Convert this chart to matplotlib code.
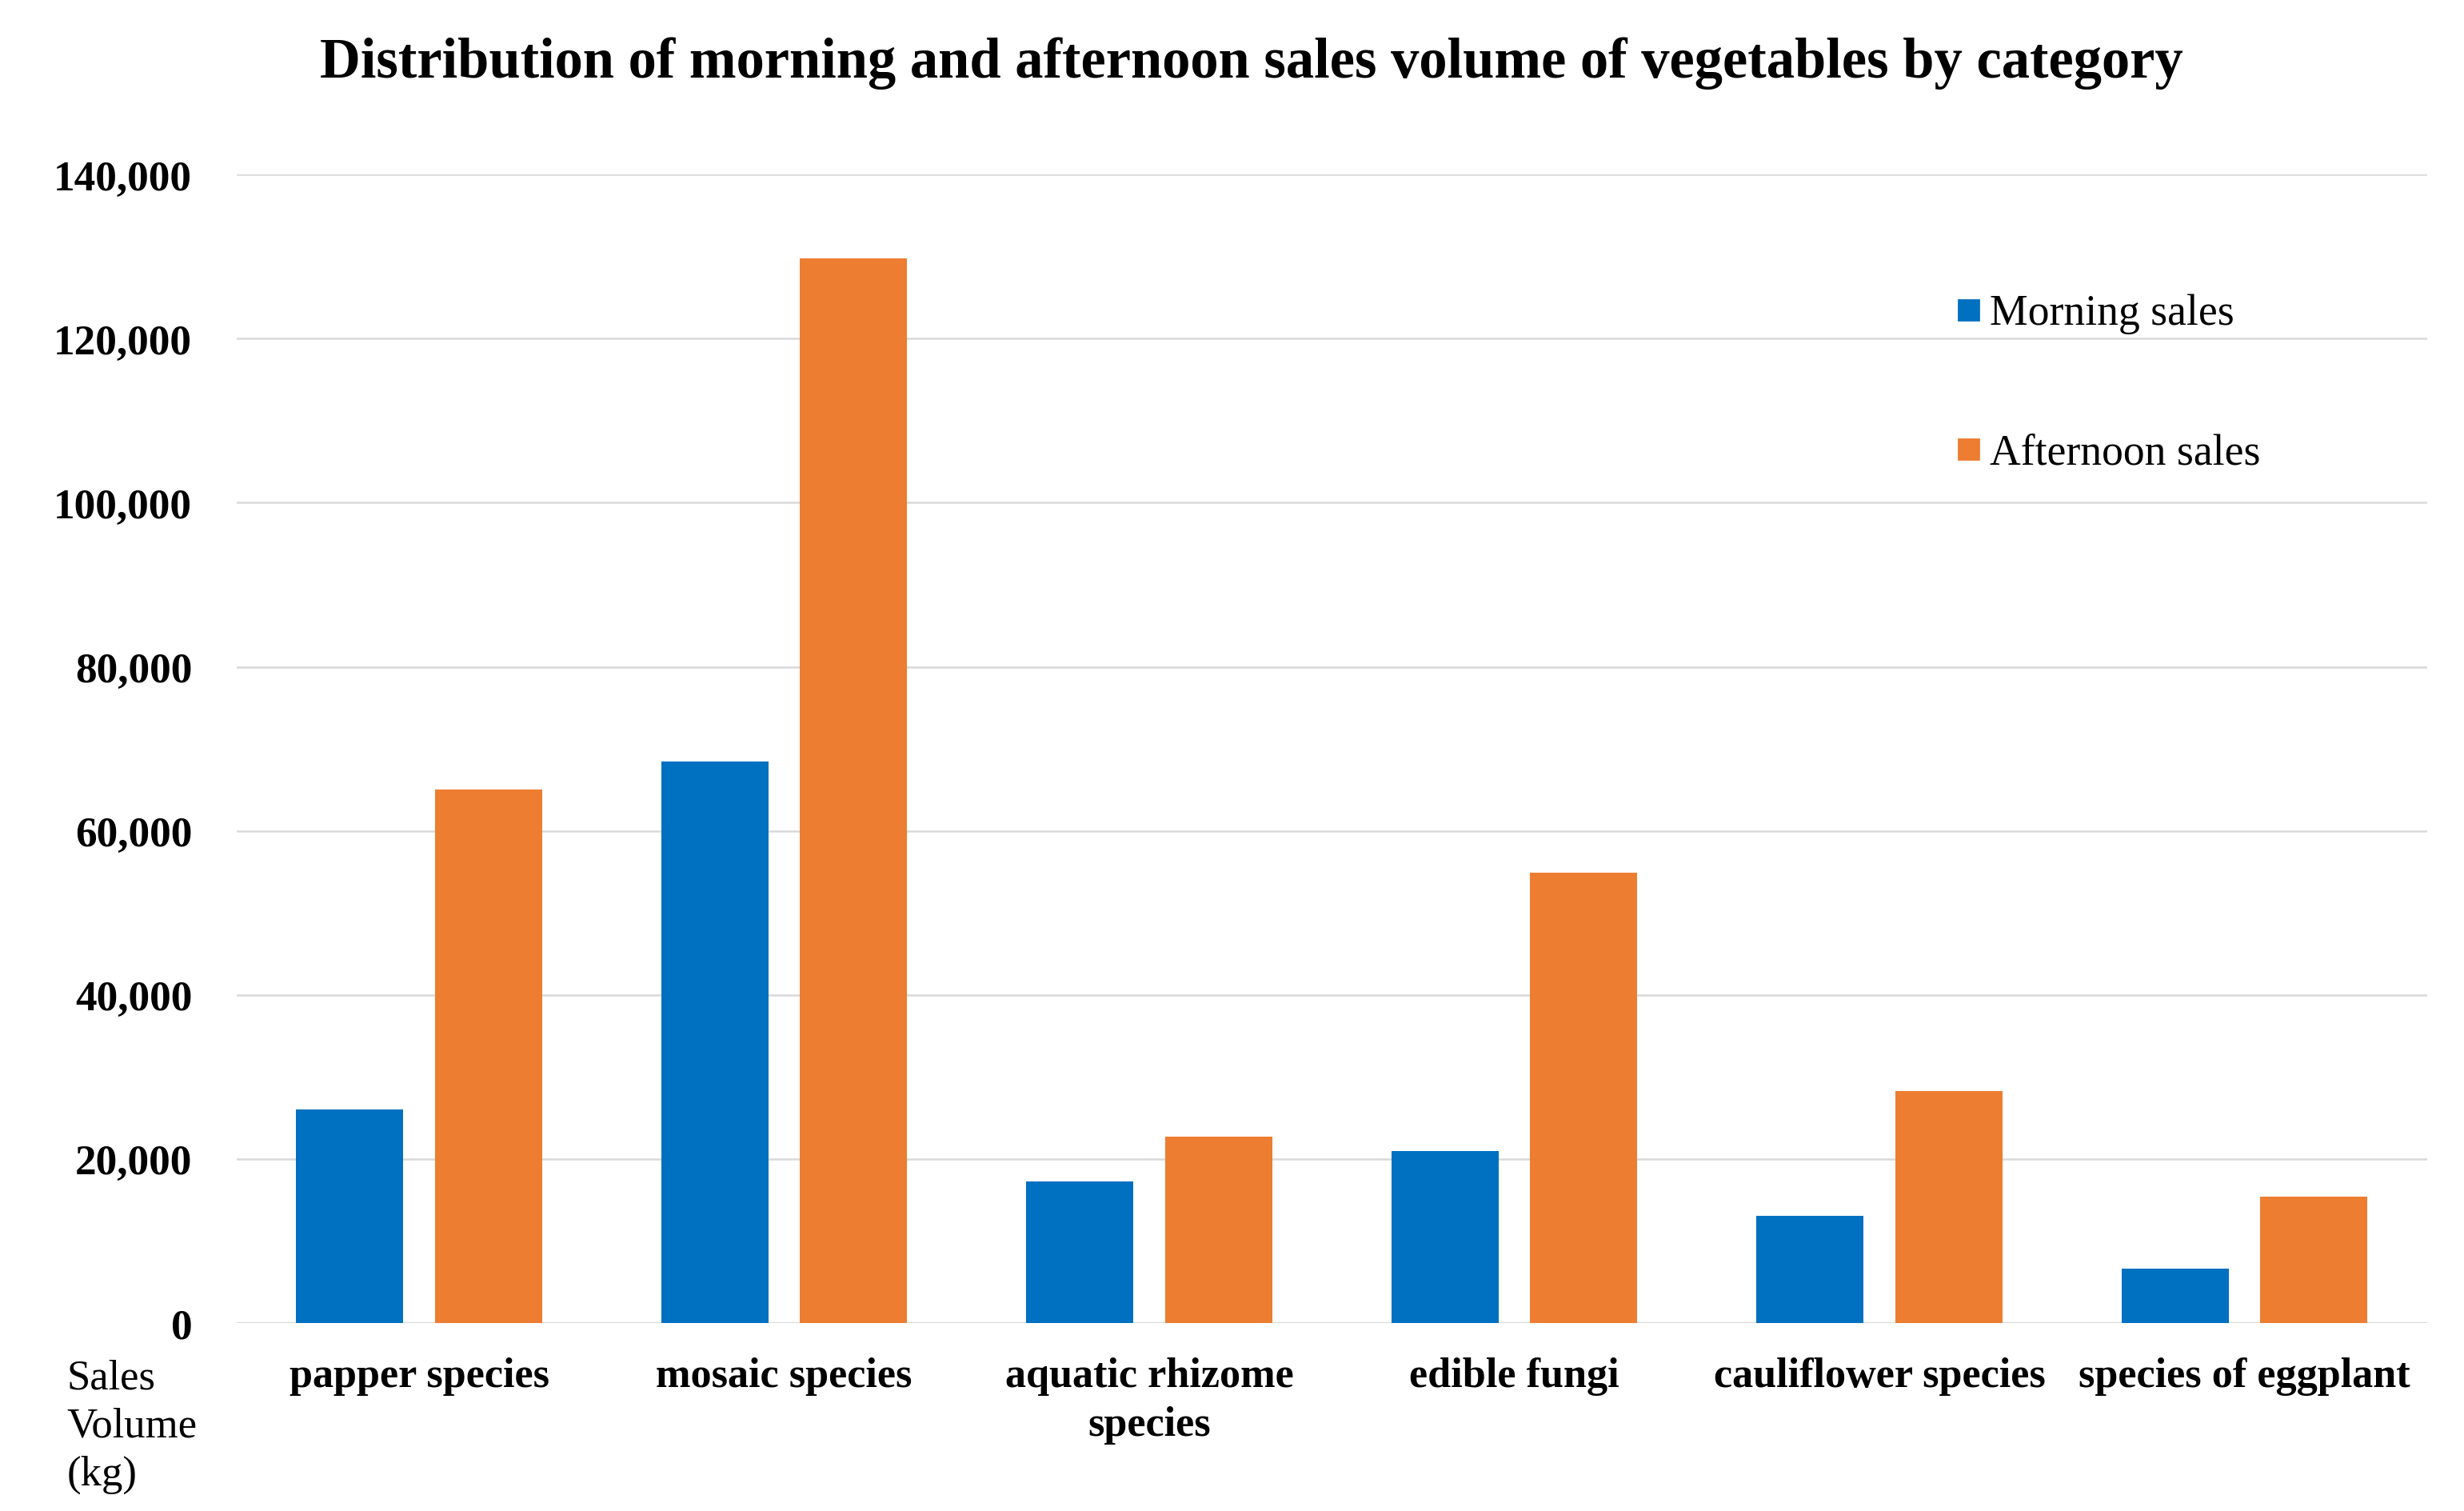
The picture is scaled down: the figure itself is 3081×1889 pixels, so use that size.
"""Grouped bar chart: morning vs afternoon vegetable sales by category."""

import matplotlib

matplotlib.use("Agg")

import matplotlib.pyplot as plt  # noqa: E402
import numpy as np  # noqa: E402
from matplotlib.lines import Line2D  # noqa: E402
from matplotlib.ticker import FuncFormatter  # noqa: E402

categories = [
    "papper species",
    "mosaic species",
    "aquatic rhizome\nspecies",
    "edible fungi",
    "cauliflower species",
    "species of eggplant",
]
morning_sales = [26000, 68500, 17300, 21000, 13100, 6600]
afternoon_sales = [65000, 129800, 22700, 54900, 28300, 15400]
series_labels = ["Morning sales", "Afternoon sales"]
y_ticks = [0, 20000, 40000, 60000, 80000, 100000, 120000, 140000]

BLUE = "#0070C0"
ORANGE = "#ED7D31"
GRID = "#d9d9d9"
SERIF = ["Liberation Serif", "DejaVu Serif"]

plt.rcParams["font.family"] = SERIF

fig = plt.figure(figsize=(15.405, 9.45), dpi=200)
ax = fig.add_axes([0.096, 0.1243, 0.889, 0.7597])

x = np.arange(len(categories)) + 0.5
width = 0.294
offset = 0.19
ax.bar(x - offset, morning_sales, width, color=BLUE, zorder=3)
ax.bar(x + offset, afternoon_sales, width, color=ORANGE, zorder=3)

ax.set_xlim(0, len(categories))
ax.set_ylim(0, 140000)
ax.set_yticks(y_ticks)
ax.yaxis.set_major_formatter(FuncFormatter(lambda v, _: f"{int(v):,}"))
ax.set_xticks(x)
ax.set_xticklabels(categories, fontweight="bold", fontsize=18.8, linespacing=1.35)
for label in ax.get_yticklabels():
    label.set_fontweight("bold")
    label.set_fontsize(19.2)

ax.tick_params(axis="both", length=0)
ax.tick_params(axis="y", pad=20)
ax.tick_params(axis="x", pad=15)
ax.yaxis.grid(True, color=GRID, linewidth=0.9, zorder=0)
for side in ("top", "right", "left", "bottom"):
    ax.spines[side].set_visible(False)
ax.axhline(0, color=GRID, linewidth=1.2, zorder=2)

handles = [
    Line2D([], [], linestyle="none", marker="s", markersize=9,
           markerfacecolor=c, markeredgecolor=c)
    for c in (BLUE, ORANGE)
]
ax.legend(
    handles,
    series_labels,
    loc="upper left",
    bbox_to_anchor=(0.767, 0.93),
    frameon=False,
    fontsize=19.3,
    labelspacing=2.31,
    handlelength=0.6,
    handletextpad=0.2,
)

fig.text(
    0.508, 0.958,
    "Distribution of morning and afternoon sales volume of vegetables by category",
    ha="center", va="center", fontsize=25.4, fontweight="bold",
)
fig.text(0.027, 0.101, "Sales\nVolume\n(kg)", ha="left", va="top",
         fontsize=19, linespacing=1.33)

fig.savefig("out.png", dpi=200)
